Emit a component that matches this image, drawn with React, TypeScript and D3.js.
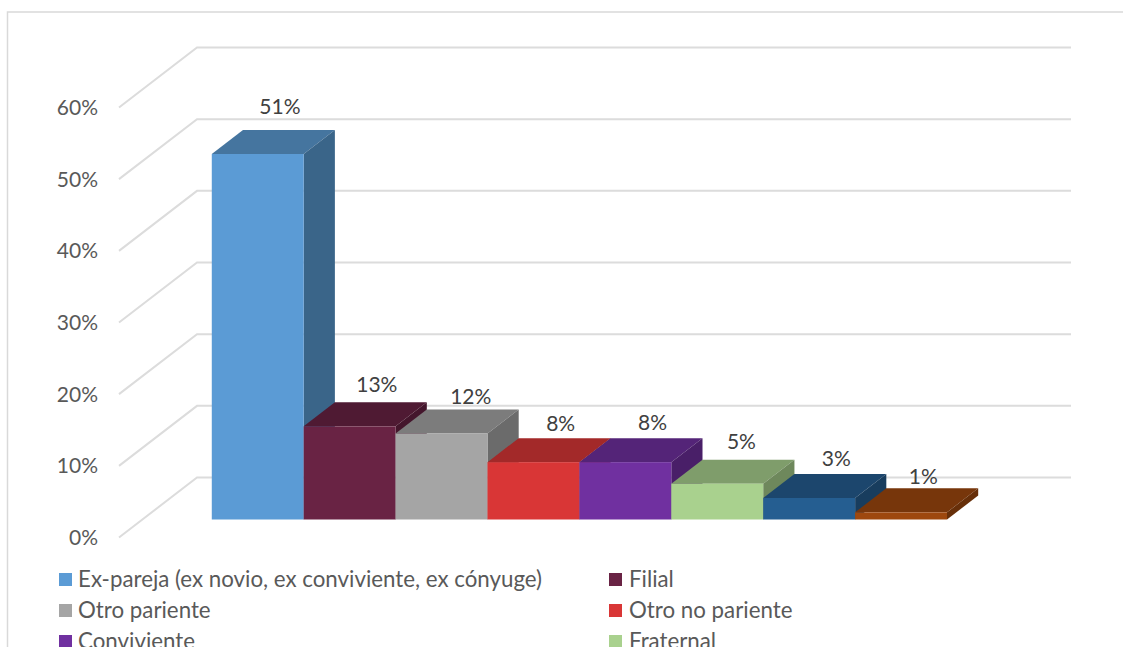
import React from "react";
import * as d3 from "d3";

// Only six legend names are readable; the last two bars' legend rows fall below the picture.
const categories = ["Ex-pareja (ex novio, ex conviviente, ex cónyuge)", "Filial", "Otro pariente", "Otro no pariente", "Conviviente", "Fraternal"];
const values = [51, 13, 12, 8, 8, 5, 3, 1];
const labels = ["51%", "13%", "12%", "8%", "8%", "5%", "3%", "1%"];
const front = ["#5b9bd5", "#692344", "#a5a5a5", "#d93636", "#7030a0", "#a9d18e", "#255e91", "#9e480e"];
const topFace = ["#45759f", "#4f1a33", "#7c7c7c", "#a32929", "#542478", "#7f9d6b", "#1c466d", "#77360b"];
const sideFace = ["#3a6589", "#44162c", "#6b6b6b", "#8d2323", "#491f68", "#6e885c", "#183d5e", "#672f09"];
const ticks = [0, 10, 20, 30, 40, 50, 60];
// label nudges from the bar's back-top centre
const labelDx = [-9, -4, -2, -4, -4, -7, -4, -9];
const labelDy = [-16, -10, -6, -7, -8, -11, -8, -4];

const W = 1123, H = 647;
const font = "Lato, Open Sans, sans-serif";
const fs = 21;
const legendFs = 22.3;

export default function App() {
  const y = d3.scaleLinear().domain([0, 60]).range([537.5, 107.5]);
  const x = d3.scaleBand<number>().domain(d3.range(values.length)).range([0, 874]).paddingInner(0).paddingOuter(0.755);
  const px = (v: number, t: number) => 119 + v + 78 * t;
  const py = (val: number, t: number) => y(val) - 60 * t;
  const t0 = 0.3, t1 = 0.7;
  const pts = (a: [number, number][]) => a.map((p) => p.join(",")).join(" ");

  return (
    <svg width={W} height={H} style={{ position: "absolute", left: 0, top: 0 }}>
      <rect width={W} height={H} fill="#fff" />
      <path d="M7.5,647V12H1123" fill="none" stroke="#d9d9d9" strokeWidth={1.5} />
      {ticks.map((t) => (
        <g key={t}>
          <polyline
            points={pts([[px(0, 0), py(t, 0)], [px(0, 1), py(t, 1)], [px(874, 1), py(t, 1)]])}
            fill="none" stroke="#dcdcdc" strokeWidth={2}
          />
          <text x={98} y={y(t) + 7.5} textAnchor="end" fontFamily={font} fontSize={fs} fill="#595959">{t}%</text>
        </g>
      ))}
      {values.map((v, i) => {
        const a = x(i)!, b = a + x.bandwidth();
        return (
          <g key={i}>
            <polygon fill={topFace[i]} points={pts([[px(a, t0), py(v, t0)], [px(b, t0), py(v, t0)], [px(b, t1), py(v, t1)], [px(a, t1), py(v, t1)]])} />
            <polygon fill={sideFace[i]} points={pts([[px(b, t0), py(0, t0)], [px(b, t0), py(v, t0)], [px(b, t1), py(v, t1)], [px(b, t1), py(0, t1)]])} />
            <rect x={px(a, t0)} y={py(v, t0)} width={x.bandwidth()} height={py(0, t0) - py(v, t0)} fill={front[i]} />
          </g>
        );
      })}
      {values.map((v, i) => {
        const c = x(i)! + x.bandwidth() / 2;
        return (
          <text key={i} x={px(c, t1) + labelDx[i]} y={py(v, t1) + labelDy[i]} textAnchor="middle" fontFamily={font} fontSize={fs} fill="#404040">{labels[i]}</text>
        );
      })}
      {categories.map((c, i) => {
        const col = i % 2, row = Math.floor(i / 2);
        const lx = col === 0 ? 59 : 609;
        const ly = 579 + row * 31;
        return (
          <g key={c}>
            <rect x={lx} y={ly - 6} width={13} height={13} fill={front[i]} />
            <text x={lx + 19 + col} y={ly + 7.5} fontFamily={font} fontSize={legendFs} fill="#595959">{c}</text>
          </g>
        );
      })}
    </svg>
  );
}
